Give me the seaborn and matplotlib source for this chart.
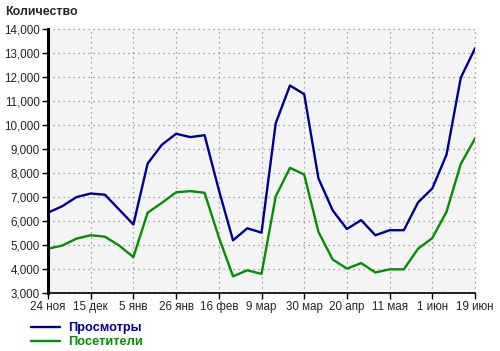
import matplotlib
matplotlib.use("Agg")
import matplotlib.pyplot as plt
import matplotlib.ticker as mticker
from matplotlib.lines import Line2D
import numpy as np
import pandas as pd
import seaborn as sns

week_index = list(range(31))
views = [6350, 6620, 7000, 7150, 7100, 6480, 5860, 8400, 9180, 9640, 9500, 9580,
         7300, 5200, 5700, 5520, 10080, 11650, 11290, 7780, 6450, 5670, 6040, 5410,
         5620, 5620, 6780, 7360, 8770, 11970, 13200]
visitors = [4850, 4980, 5270, 5410, 5350, 4980, 4500, 6350, 6760, 7200, 7250, 7180,
            5330, 3700, 3950, 3800, 7030, 8220, 7940, 5550, 4400, 4020, 4250, 3860,
            3990, 3990, 4850, 5290, 6390, 8380, 9440]
tick_positions = [0, 3, 6, 9, 12, 15, 18, 21, 24, 27, 30]
tick_labels = ["24 ноя", "15 дек", "5 янв", "26 янв", "16 фев", "9 мар",
               "30 мар", "20 апр", "11 мая", "1 июн", "19 июн"]
series_names = ["Просмотры", "Посетители"]
series_colors = ["#00008f", "#009000"]

df = pd.concat([
    pd.DataFrame({"week": week_index, "value": views, "series": series_names[0]}),
    pd.DataFrame({"week": week_index, "value": visitors, "series": series_names[1]}),
])

sns.set_style("white")
plt.rcParams["font.family"] = ["Liberation Sans", "DejaVu Sans"]

fig = plt.figure(figsize=(5.0, 3.51), dpi=100)
ax = fig.add_axes([0.096, 0.165, 0.854, 0.752])
ax.set_facecolor("#f4f4f4")

sns.lineplot(data=df, x="week", y="value", hue="series",
             palette=dict(zip(series_names, series_colors)),
             linewidth=1.7, ax=ax, legend=False)

ax.set_xlim(0, 30)
ax.set_ylim(3000, 14000)
ax.set_xticks(tick_positions)
ax.set_xticklabels(tick_labels)
ax.yaxis.set_major_locator(mticker.MultipleLocator(1000))
ax.yaxis.set_major_formatter(mticker.FuncFormatter(lambda v, p: f"{int(v):,}"))
ax.set_xlabel("")
ax.set_ylabel("")

ax.grid(True, which="major", color="#8a8a8a", linestyle=(0, (1, 3)), linewidth=0.9)
ax.set_axisbelow(True)
for gl in ax.get_xgridlines() + ax.get_ygridlines():
    gl.set_clip_on(False)

for s in ["top", "right"]:
    ax.spines[s].set_visible(False)
ax.spines["left"].set_linewidth(2.2)
ax.spines["left"].set_color("black")
ax.spines["bottom"].set_linewidth(1.2)
ax.spines["bottom"].set_color("black")

ax.tick_params(axis="both", which="major", length=4, width=1, color="black",
               labelsize=8.4, pad=2, direction="out", left=True, bottom=True)

fig.text(0.01, 0.965, "Количество", fontsize=8.9, fontweight="bold",
         ha="left", va="center")

handles = [Line2D([0], [0], color=c, lw=1.7) for c in series_colors]
leg = fig.legend(handles, series_names, loc="upper left",
                 bbox_to_anchor=(0.05, 0.1), frameon=False,
                 prop={"weight": "bold", "size": 9.2}, handlelength=2.2,
                 handletextpad=0.65, labelspacing=0.15, borderpad=0,
                 labelcolor="linecolor")

fig.savefig("out.png", dpi=100, facecolor="white")
